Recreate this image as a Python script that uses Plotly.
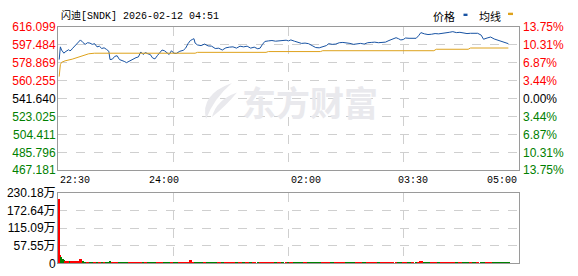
import plotly.graph_objects as go

# ---------------- data ----------------
prev_close = 541.640
title_text = "闪迪[SNDK] 2026-02-12 04:51"

# minutes after 22:30
times = [1, 2, 3, 4, 5, 6, 7, 8, 9, 10, 11, 12, 13,
         15, 17, 19, 21, 23, 25, 27, 29, 31, 33, 35, 37, 39, 41, 43,
         44,
         46, 48, 50, 52, 54, 56, 58, 60, 62, 64, 66, 68, 70, 72, 74, 76, 78, 80, 82, 84, 86, 88, 90, 92, 94, 96, 98, 100,
         103, 106,
         108, 110, 112, 114,
         115, 116,
         118,
         121, 124, 127, 130, 133, 136, 139, 142, 145, 148, 151, 154, 157, 160, 163, 166, 169,
         171, 173, 175,
         178, 181, 184, 187, 190, 193,
         195, 197,
         200, 203, 206, 209, 212, 215, 218, 221, 224, 227,
         229,
         232, 235, 238, 241, 244, 247, 250, 253, 256, 259, 262, 265, 268, 271, 274, 277, 280, 283, 286,
         288, 290, 292, 294,
         297, 300, 303,
         305, 307,
         310, 313, 316, 319, 322, 325, 328, 331, 334, 337, 340, 343, 346, 349, 352, 355, 358,
         360,
         363, 366, 369, 372, 375, 378, 381]

prices = [582.2, 595.4, 592.1, 590.8, 588.8, 590.1, 590.8, 592.1, 592.4, 591.4, 591.8, 593.4, 594.7,
          598.0, 599.7, 602.6, 600.0, 598.0, 599.7, 599.3, 598.0, 598.7, 595.4, 596.1, 593.7, 594.4, 592.8, 590.8,
          582.2,
          582.6, 585.5, 586.2, 582.2, 581.6, 580.3, 579.0, 580.3, 582.2, 582.9, 584.2, 584.9, 590.1, 587.5, 589.5,
          588.2, 587.5, 583.9, 582.9, 586.2, 588.8, 592.1, 591.4, 589.5, 587.5, 591.4, 588.8, 588.5,
          590.8, 591.8,
          594.1, 598.7, 602.0, 603.3,
          603.9, 599.3,
          597.4,
          596.7, 598.3, 596.4, 596.1, 593.7, 594.0, 592.1, 594.4, 595.1, 595.4, 594.1, 596.1, 595.4, 596.1, 594.1,
          595.1, 593.4,
          594.1, 598.0, 601.0,
          601.6, 602.0, 601.3, 601.6, 601.3, 602.3,
          601.6, 602.6,
          601.3, 600.0, 599.0, 599.3, 598.7, 596.7, 594.7, 594.4, 595.4, 596.7,
          598.7,
          598.0, 598.3, 599.7, 600.0, 599.7, 599.0, 598.0, 598.3, 599.0, 598.3, 599.7, 600.0, 600.3, 599.7, 600.0,
          600.3, 602.0, 603.3, 604.9,
          603.9, 602.6, 603.0, 604.6,
          604.3, 604.6, 604.3,
          606.9, 610.2,
          608.9, 608.2, 608.5, 609.2, 608.9, 609.2, 609.9, 610.5, 611.2, 610.2, 610.5, 609.5, 609.2, 609.5, 609.2,
          609.5, 607.6,
          603.3,
          604.6, 605.6, 603.6, 602.3, 601.3, 599.7, 598.7]

# volume in 万
volumes = [212, 26, 22, 15, 12, 9, 8, 9, 7, 8, 7, 8, 7,
           7, 6, 13, 6, 5, 5, 4, 4, 5, 4, 4, 4, 4, 4, 4,
           9,
           4, 4, 3, 4, 3, 3, 4, 3, 3, 4, 3, 3, 4, 3, 3, 3, 4, 3, 3, 3, 3, 4, 3, 3, 3, 3, 3, 3,
           3, 3,
           3, 3, 12, 3,
           3, 4,
           3,
           3, 3, 4, 3, 3, 3, 3, 4, 3, 3, 3, 3, 3, 3, 4, 3, 3,
           3, 4, 3,
           3, 3, 3, 3, 3, 3,
           3, 3,
           3, 3, 3, 3, 3, 3, 3, 3, 3, 3,
           3,
           3, 3, 3, 3, 3, 3, 3, 3, 3, 3, 3, 3, 3, 3, 3, 3, 3, 3, 3,
           3, 3, 3, 3,
           3, 3, 3,
           3, 6,
           3, 3, 3, 3, 3, 3, 3, 3, 3, 3, 3, 3, 3, 3, 3, 3, 3,
           3,
           3, 3, 3, 3, 3, 3, 3]

avg_times = [1, 2, 3, 6, 12, 16, 20, 26, 31, 116, 118, 176, 178, 222, 224, 318, 320, 347, 349, 381]
avg_prices = [564.5, 577.0, 579.3, 580.9, 582.6, 584.2, 586.5, 588.2, 588.8, 588.8, 589.7, 589.7,
              590.5, 590.5, 591.4, 591.4, 592.9, 592.9, 594.2, 594.2]

price_ticks = [467.181, 485.796, 504.411, 523.025, 541.640, 560.255, 578.869, 597.484, 616.099]
pct_labels = ["13.75%", "10.31%", "6.87%", "3.44%", "0.00%", "3.44%", "6.87%", "10.31%", "13.75%"]
vol_ticks = [0, 57.55, 115.09, 172.64, 230.18]
vol_labels = ["0", "57.55万", "115.09万", "172.64万", "230.18万"]
time_labels = ["22:30", "24:00", "02:00", "03:30", "05:00"]
time_label_pos = [0, 90, 210, 300, 390]
grid_pos = [97.5, 195, 292.5]
session_len = 390

assert len(times) == len(prices) == len(volumes)

# ---------------- style ----------------
W, H = 578, 276
RED, GREEN, BLACK = "#ff0000", "#008000", "#000000"
BLUE, ORANGE = "#1853a3", "#dea21c"
FRAME, GRID = "#9a9a9a", "#cfcfcf"
WM = "#e9e9ed"


def px(x):
    return x / W


def py(y):
    return 1 - y / H


def tcolor(v):
    if abs(v - prev_close) < 1e-6:
        return BLACK
    return RED if v > prev_close else GREEN


price_text = ['<span style="color:%s">%.3f</span>' % (tcolor(v), v) for v in price_ticks]
pct_text = ['<span style="color:%s">%s</span>' % (tcolor(v), s) for v, s in zip(price_ticks, pct_labels)]

bar_colors = []
prev = prev_close
for p in prices:
    bar_colors.append(RED if p >= prev else GREEN)
    prev = p
widths = [times[i + 1] - times[i] for i in range(len(times) - 1)]
widths.append(widths[-1])

fig = go.Figure()
fig.add_trace(go.Scatter(x=times, y=prices, mode="lines", line=dict(color=BLUE, width=1),
                         xaxis="x", yaxis="y", hoverinfo="skip"))
fig.add_trace(go.Scatter(x=avg_times, y=avg_prices, mode="lines", line=dict(color=ORANGE, width=1),
                         xaxis="x", yaxis="y", hoverinfo="skip"))
fig.add_trace(go.Scatter(x=times, y=prices, mode="lines", line=dict(color="rgba(0,0,0,0)", width=0),
                         xaxis="x", yaxis="y3", hoverinfo="skip"))
fig.add_trace(go.Bar(x=times, y=volumes, width=widths, marker=dict(color=bar_colors, line=dict(width=0)),
                     xaxis="x2", yaxis="y2", hoverinfo="skip"))

xdom = [px(58), px(519)]
axis_common = dict(showline=True, linecolor=FRAME, linewidth=1, mirror=True, zeroline=False,
                   showgrid=True, gridcolor=GRID, griddash="dash", gridwidth=1, ticks="")
yr = [price_ticks[0], price_ticks[-1]]

fig.update_layout(
    width=W, height=H, margin=dict(l=0, r=0, t=0, b=0),
    paper_bgcolor="white", plot_bgcolor="white", showlegend=False,
    font=dict(family="Liberation Sans, Arial, Noto Sans CJK SC", size=12, color=BLACK),
    bargap=0,
    xaxis=dict(domain=xdom, range=[0, session_len], tickvals=grid_pos, showticklabels=False,
               anchor="y", **axis_common),
    yaxis=dict(domain=[py(172), py(21)], range=yr, tickvals=price_ticks, ticktext=price_text,
               anchor="x", ticklabelstandoff=-1, **axis_common),
    yaxis3=dict(overlaying="y", side="right", range=yr, tickvals=price_ticks, ticktext=pct_text,
                anchor="x", showgrid=False, showline=False, zeroline=False, ticks="",
                ticklabelstandoff=3),
    xaxis2=dict(domain=xdom, range=[0, session_len], tickvals=grid_pos, showticklabels=False,
                anchor="y2", **axis_common),
    yaxis2=dict(domain=[py(270), py(196)], range=[vol_ticks[0], vol_ticks[-1]], tickvals=vol_ticks,
                ticktext=vol_labels, anchor="x2", ticklabelstandoff=-1, **axis_common),
)

annotations = []
anchors = ["left", "center", "center", "center", "right"]
for t, lab, a in zip(time_label_pos, time_labels, anchors):
    annotations.append(dict(x=t, y=py(182.5), xref="x", yref="paper", text=lab, showarrow=False,
                            xanchor=a, yanchor="middle",
                            font=dict(family="Liberation Mono, DejaVu Sans Mono", size=10, color=BLACK)))

annotations.append(dict(x=px(59), y=py(8.5), xref="paper", yref="paper",
                        text=title_text, showarrow=False, xanchor="left", yanchor="middle",
                        font=dict(family="Liberation Mono, Noto Sans CJK SC", size=10, color=BLACK)))
annotations.append(dict(x=px(431), y=py(9.5), xref="paper", yref="paper", text="价格", showarrow=False,
                        xanchor="left", yanchor="middle",
                        font=dict(family="Noto Sans CJK SC", size=11, color=BLACK)))
annotations.append(dict(x=px(477), y=py(9.5), xref="paper", yref="paper", text="均线", showarrow=False,
                        xanchor="left", yanchor="middle",
                        font=dict(family="Noto Sans CJK SC", size=11, color=BLACK)))
annotations.append(dict(x=px(310), y=py(100), xref="paper", yref="paper", text="<b>东方财富</b>",
                        showarrow=False, xanchor="center", yanchor="middle",
                        font=dict(family="Noto Sans CJK SC", size=34, color=WM)))
fig.update_layout(annotations=annotations)

# watermark logo (decorative swoosh)
fig.add_shape(type="path", xref="paper", yref="paper",
              path="M %f %f Q %f %f %f %f Q %f %f %f %f Z" % (
                  px(206), py(118), px(200), py(92), px(232), py(80),
                  px(214), py(96), px(206), py(118)),
              fillcolor=WM, line=dict(width=0))
fig.add_shape(type="path", xref="paper", yref="paper",
              path="M %f %f Q %f %f %f %f Q %f %f %f %f Z" % (
                  px(212), py(116), px(216), py(98), px(237), py(90),
                  px(226), py(104), px(212), py(116)),
              fillcolor=WM, line=dict(width=0))

fig.add_shape(type="rect", xref="paper", yref="paper", x0=px(463.5), x1=px(467.5), y0=py(9.5), y1=py(7),
              fillcolor=BLUE, line=dict(width=0))
fig.add_shape(type="rect", xref="paper", yref="paper", x0=px(508), x1=px(513), y0=py(8.5), y1=py(6),
              fillcolor=ORANGE, line=dict(width=0))

fig.write_html("out.html")
